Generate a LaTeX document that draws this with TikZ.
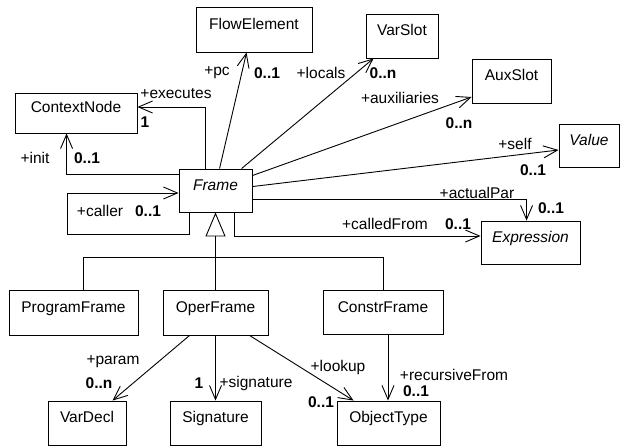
\documentclass[tikz,border=0pt]{standalone}
\usepackage{fontspec}
\setmainfont{Liberation Sans}
\usetikzlibrary{arrows.meta,calc}
\begin{document}
\begin{tikzpicture}[x=1pt,y=-1pt,
  every node/.style={font=\fontsize{15.5}{18}\selectfont},
  cls/.style={draw, line width=0.9pt, inner sep=0pt, text height=12pt, text depth=12.8pt},
  lbl/.style={inner sep=0pt},
  mult/.style={inner sep=0pt, font=\fontsize{15.5}{18}\selectfont\bfseries},
  assoc/.style={line width=0.9pt, -{Straight Barb[length=14pt,width=12pt]}},
  link/.style={line width=0.9pt},
  gen/.style={line width=0.9pt, -{Triangle[open,length=24pt,width=20pt]}},
]
\useasboundingbox (0,0) rectangle (621,446);

% classes
\node[cls, minimum width=116pt, minimum height=45pt] (fe) at (254,29.5) {FlowElement};
\node[cls, minimum width=122pt, minimum height=40pt] (cn) at (76,113) {ContextNode};
\node[cls, minimum width=73pt, minimum height=43pt] (fr) at (215.5,190.5) {\itshape Frame};
\node[cls, minimum width=72pt, minimum height=44pt] (vs) at (402,36) {VarSlot};
\node[cls, minimum width=79pt, minimum height=44pt] (as) at (511.5,81) {AuxSlot};
\node[cls, minimum width=60pt, minimum height=43pt] (val) at (589,145.5) {\itshape Value};
\node[cls, minimum width=99pt, minimum height=43pt] (ex) at (530.5,242.5) {\itshape Expression};
\node[cls, minimum width=129pt, minimum height=45pt] (pf) at (73.5,312.5) {ProgramFrame};
\node[cls, minimum width=105pt, minimum height=45pt] (op) at (215.5,312.5) {OperFrame};
\node[cls, minimum width=120pt, minimum height=44pt] (cf) at (383,312.5) {ConstrFrame};
\node[cls, minimum width=78pt, minimum height=44pt] (vd) at (87,423) {VarDecl};
\node[cls, minimum width=91pt, minimum height=44pt] (sg) at (215.5,423) {Signature};
\node[cls, minimum width=103pt, minimum height=44pt] (ot) at (388.5,423) {ObjectType};

% associations from Frame
\draw[assoc] ($(fr.north west)+(27,0)$) |- ($(cn.east)+(0,-6)$);
\draw[assoc] ($(fr.west)+(0,-16.5)$) -| ($(cn.south west)+(52,0)$);
\draw[assoc] ($(fr.south west)+(11,0)$) -- ++(0,22) -| ($(fr.west)+(-111,2.5)$) -- ($(fr.west)+(0,2.5)$);
\draw[assoc] ($(fr.north west)+(41,0)$) -- ($(fe.south west)+(51,0)$);
\draw[assoc] ($(fr.north west)+(63,0)$) -- ($(vs.south west)+(8,0)$);
\draw[assoc] ($(fr.north east)+(0,7)$) -- ($(as.west)+(0,16)$);
\draw[assoc] ($(fr.north east)+(0,18)$) -- ($(val.west)+(0,4.5)$);
\draw[assoc] ($(fr.north east)+(0,31)$) -| ($(ex.north west)+(46,0)$);
\draw[assoc] ($(fr.south west)+(56,0)$) |- ($(ex.west)+(0,-6.5)$);

% generalisation
\draw[gen] (op.north) -- (fr.south);
\draw[link] ($(pf.north)+(9.5,0)$) -- ++(0,-32) -| (cf.north);

% associations below
\draw[assoc] ($(op.south west)+(27,0)$) -- ($(vd.north west)+(65,0)$);
\draw[assoc] (op.south) -- (sg.north);
\draw[assoc] ($(op.south west)+(87,0)$) -- ($(ot.north west)+(17,0)$);
\draw[assoc] ($(cf.south)+(5,0)$) -- ($(ot.north)+(-0.5,0)$);

% role names
\node[lbl] (l1) at (217,73) {+pc};
\node[lbl] (l2) at (176,94) {+executes};
\node[lbl] (l3) at (35,158) {+init};
\node[lbl] (l4) at (100,211) {+caller};
\node[lbl] (l5) at (321,73) {+locals};
\node[lbl] (l6) at (400,98) {+auxiliaries};
\node[lbl] (l7) at (515,144) {+self};
\node[lbl] (l8) at (477,193) {+actualPar};
\node[lbl] (l9) at (385,224) {+calledFrom};
\node[lbl] (l10) at (113,362) {+param};
\node[lbl] (l11) at (256,383) {+signature};
\node[lbl] (l12) at (338,367) {+lookup};
\node[lbl] (l13) at (454,375) {+recursiveFrom};

% multiplicities
\node[mult] (m1) at (267,73) {0..1};
\node[mult] (m2) at (145,122) {1};
\node[mult] (m3) at (87,158) {0..1};
\node[mult] (m4) at (148,211) {0..1};
\node[mult] (m5) at (383,73) {0..n};
\node[mult] (m6) at (459,123) {0..n};
\node[mult] (m7) at (533,170) {0..1};
\node[mult] (m8) at (551,208) {0..1};
\node[mult] (m9) at (458,224) {0..1};
\node[mult] (m10) at (99,383) {0..n};
\node[mult] (m11) at (199,383) {1};
\node[mult] (m12) at (321,402) {0..1};
\node[mult] (m13) at (416,391) {0..1};
\end{tikzpicture}
\end{document}
